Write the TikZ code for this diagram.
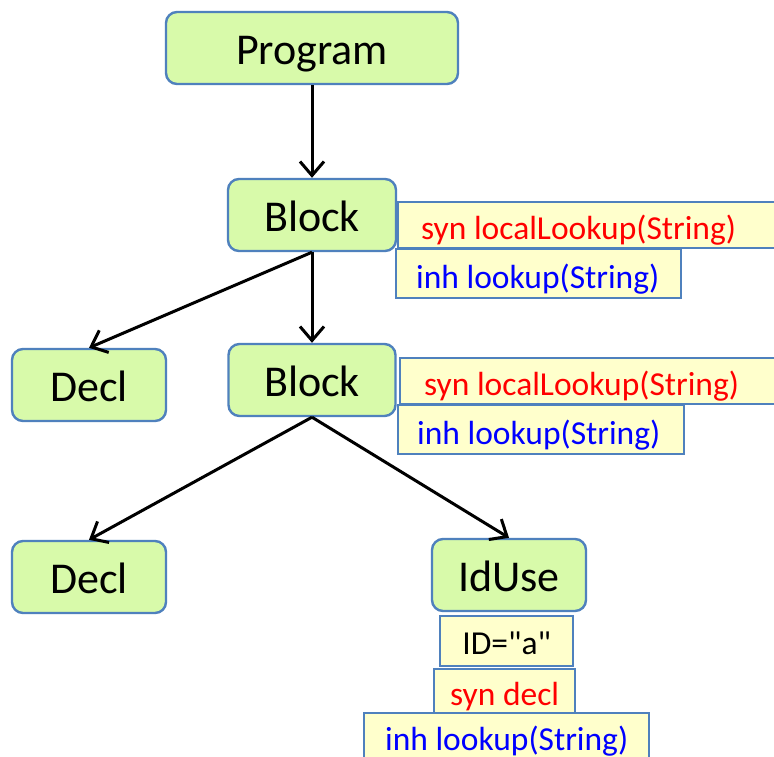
\documentclass[tikz,border=0pt]{standalone}
\usepackage{fontspec}
\setmainfont{Carlito}
\usetikzlibrary{arrows.meta}
\definecolor{nodegreen}{RGB}{216,250,170}
\definecolor{attryellow}{RGB}{255,255,204}
\definecolor{edgeblue}{RGB}{79,129,189}
\definecolor{synred}{RGB}{255,0,0}
\definecolor{inhblue}{RGB}{0,0,255}
\tikzset{
  treenode/.style={draw=edgeblue, line width=2.4pt, fill=nodegreen, rounded corners=11pt,
    minimum height=72pt, inner sep=0pt, text height=40pt, text depth=8pt,
    font=\fontsize{44}{50}\selectfont},
  attrbox/.style={draw=edgeblue, line width=2.4pt, fill=attryellow, inner ysep=0pt,
    anchor=north west, text height=31pt, text depth=2pt, font=\fontsize{33.5}{40}\selectfont},
  conn/.style={line width=3pt, -{Straight Barb[length=14pt,width=24pt,line width=3pt]}},
}
\newcommand{\lbox}[2]{\makebox[#1][l]{#2}}
\begin{document}
\begin{tikzpicture}[x=1pt,y=-1pt]
\useasboundingbox (0,0) rectangle (774,756);
\fill[white] (0,0) rectangle (774,756);
\clip (0,0) rectangle (774,756);
% tree nodes
\node[treenode, minimum width=292pt] (prog) at (312,48) {Program};
\node[treenode, minimum width=168pt] (b1) at (312,215) {Block};
\node[treenode, minimum width=154pt] (d1) at (89,385) {Decl};
\node[treenode, minimum width=167pt] (b2) at (312,380) {Block};
\node[treenode, minimum width=154pt] (d2) at (89,577) {Decl};
\node[treenode, minimum width=154pt] (idu) at (509,575) {IdUse};
% attribute boxes
\node[attrbox, inner xsep=23pt, minimum height=46pt, text=synred] (s1) at (397,201) {\lbox{354pt}{syn localLookup(String)}};
\node[attrbox, inner xsep=20pt, minimum height=49pt, text=inhblue] (i1) at (395,248) {\lbox{245pt}{inh lookup(String)}};
\node[attrbox, inner xsep=24pt, minimum height=46pt, text=synred] (s2) at (399,357) {\lbox{352pt}{syn localLookup(String)}};
\node[attrbox, inner xsep=19pt, minimum height=49pt, text=inhblue] (i2) at (397,404) {\lbox{248pt}{inh lookup(String)}};
\node[attrbox, minimum width=133pt, minimum height=50pt, inner xsep=0pt, text height=29pt] (idv) at (439,615) {ID=\textquotedbl a\textquotedbl};
\node[attrbox, minimum width=141pt, minimum height=46pt, inner xsep=0pt, text height=29pt, text=synred] (sd) at (433,668) {syn decl};
\node[attrbox, minimum width=285pt, minimum height=50pt, inner xsep=0pt, text height=26pt, text=inhblue] (i3) at (363,712) {inh lookup(String)};
% edges
\draw[conn] (prog.south) -- (b1.north);
\draw[conn] (b1.south) -- (d1.north);
\draw[conn] (b1.south) -- (b2.north);
\draw[conn] (b2.south) -- (d2.north);
\draw[conn] (b2.south) -- (idu.north);
\end{tikzpicture}
\end{document}
